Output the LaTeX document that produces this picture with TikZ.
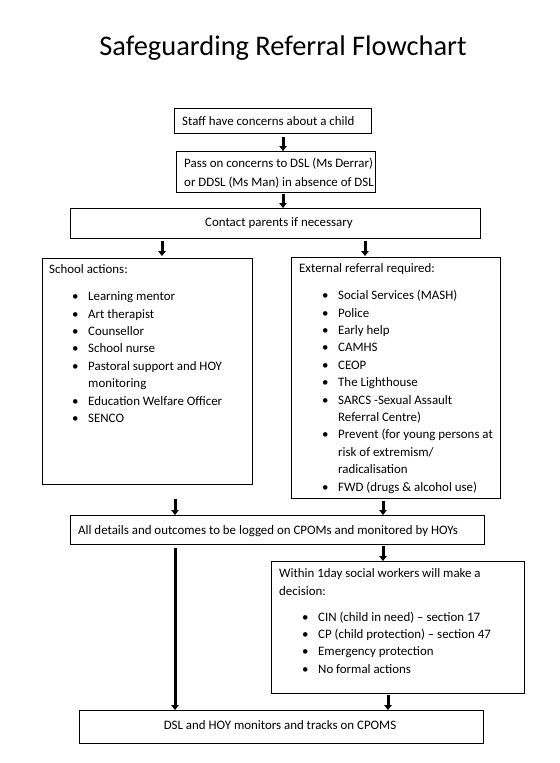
\documentclass[tikz,border=0pt]{standalone}
\usepackage{fontspec}
\setmainfont{Carlito}
\usetikzlibrary{arrows.meta}
\newcommand\fs{\fontsize{12.9bp}{17.4bp}\selectfont}
\newcommand\bl[1]{\hspace*{23bp}\makebox[16bp][l]{\textbullet}#1}
\newcommand\blc[1]{\hspace*{39bp}#1}
\begin{document}
\begin{tikzpicture}[x=1bp,y=-1bp,
  box/.style={draw, line width=0.8bp, inner sep=0, anchor=north west},
  txt/.style={anchor=base west, inner sep=0, font=\fs},
  ctxt/.style={anchor=base, inner sep=0, font=\fs},
  list/.style={anchor=north west, inner sep=0, font=\fs, align=left},
  arr/.style={line width=3bp, -{Triangle[width=7.5bp,length=5bp]}}]
\useasboundingbox (0,0) rectangle (560,763);
% title
\node[anchor=base, inner sep=0, font=\fontsize{28.4bp}{34bp}\selectfont] (title) at (283,56) {Safeguarding Referral Flowchart};
% boxes
\node[box, minimum width=197bp, minimum height=25bp] (b1) at (174,108) {};
\node[box, minimum width=199bp, minimum height=41bp] (b2) at (176,151) {};
\node[box, minimum width=410bp, minimum height=30bp] (b3) at (70,208) {};
\node[box, minimum width=210bp, minimum height=226bp] (b4) at (42,258) {};
\node[box, minimum width=209bp, minimum height=241bp] (b5) at (291,257) {};
\node[box, minimum width=414bp, minimum height=29bp] (b6) at (70,515) {};
\node[box, minimum width=253bp, minimum height=132bp] (b7) at (271,561) {};
\node[box, minimum width=404bp, minimum height=33bp] (b8) at (79,710) {};
% texts
\node[txt] (t1) at (182,125) {Staff have concerns about a child};
\node[list] (t2) at (184,155.3) {\strut Pass on concerns to DSL (Ms Derrar)\\[1.2bp]\strut or DDSL (Ms Man) in absence of DSL};
\node[ctxt] (t3) at (279,226) {Contact parents if necessary};
\node[list] (t4) at (49,261.5) {\strut School actions:\\[9.4bp]
\strut\bl{Learning mentor}\\
\strut\bl{Art therapist}\\
\strut\bl{Counsellor}\\
\strut\bl{School nurse}\\
\strut\bl{Pastoral support and HOY}\\
\strut\blc{monitoring}\\
\strut\bl{Education Welfare Officer}\\
\strut\bl{SENCO}};
\node[list] (t5) at (299,260.5) {\strut External referral required:\\[9.4bp]
\strut\bl{Social Services (MASH)}\\
\strut\bl{Police}\\
\strut\bl{Early help}\\
\strut\bl{CAMHS}\\
\strut\bl{CEOP}\\
\strut\bl{The Lighthouse}\\
\strut\bl{SARCS -Sexual Assault}\\
\strut\blc{Referral Centre)}\\
\strut\bl{Prevent (for young persons at}\\
\strut\blc{risk of extremism/}\\
\strut\blc{radicalisation}\\
\strut\bl{FWD (drugs \& alcohol use)}};
\node[txt] (t6) at (78,534) {All details and outcomes to be logged on CPOMs and monitored by HOYs};
\node[list] (t7) at (279,565.5) {\strut Within 1day social workers will make a\\[0.6bp]
\strut decision:\\[7.8bp]
\strut\bl{CIN (child in need) -- section 17}\\
\strut\bl{CP (child protection) -- section 47}\\
\strut\bl{Emergency protection}\\
\strut\bl{No formal actions}};
\node[ctxt] (t8) at (280,729) {DSL and HOY monitors and tracks on CPOMS};
% arrow columns
\coordinate (c283) at (283,0);
\coordinate (c162) at (162,0);
\coordinate (c365) at (365,0);
\coordinate (c175) at (175,0);
\coordinate (c383) at (383,0);
\coordinate (c388) at (388,0);
% connectors
\draw[arr, shorten <=3bp] (c283 |- b1.south) -- (c283 |- b2.north);
\draw[arr, shorten <=1.5bp] (c283 |- b2.south) -- (c283 |- b3.north);
\draw[arr, shorten <=2bp, shorten >=2bp] (c162 |- b3.south) -- (c162 |- b4.north);
\draw[arr, shorten <=2bp, shorten >=1bp] (c365 |- b3.south) -- (c365 |- b5.north);
\draw[arr, shorten <=14bp] (c175 |- b4.south) -- (c175 |- b6.north);
\draw[arr, shorten <=2bp] (c383 |- b5.south) -- (c383 |- b6.north);
\draw[arr, shorten <=3bp] (c175 |- b6.south) -- (c175 |- b8.north);
\draw[arr, shorten <=1.5bp] (c383 |- b6.south) -- (c383 |- b7.north);
\draw[arr, shorten <=1.5bp] (c388 |- b7.south) -- (c388 |- b8.north);
\end{tikzpicture}
\end{document}
